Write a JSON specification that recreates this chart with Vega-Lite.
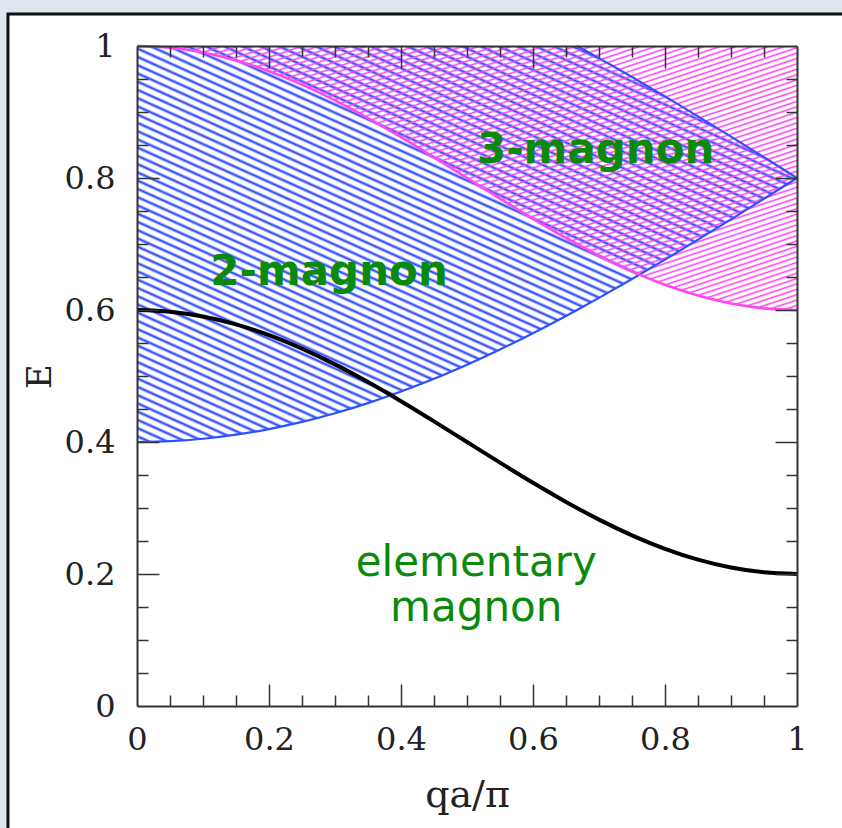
{
  "$schema": "https://vega.github.io/schema/vega-lite/v6.json",
  "width": 660,
  "height": 660,
  "autosize": {"type": "none"},
  "padding": {"left": 137, "top": 46, "right": 45, "bottom": 122},
  "background": "#dfe6ef",
  "config": {"view": {"stroke": null}},
  "datasets": {
    "bands": [
      {"q": 0, "mag1": 0.6, "lo2": 0.4, "hi2": 1, "lo3": 1.0},
      {"q": 0.05, "mag1": 0.5975, "lo2": 0.4012, "hi2": 1, "lo3": 0.9975},
      {"q": 0.1, "mag1": 0.5902, "lo2": 0.4049, "hi2": 1, "lo3": 0.9902},
      {"q": 0.15, "mag1": 0.5782, "lo2": 0.4111, "hi2": 1, "lo3": 0.9782},
      {"q": 0.2, "mag1": 0.5618, "lo2": 0.4196, "hi2": 1, "lo3": 0.9618},
      {"q": 0.25, "mag1": 0.5414, "lo2": 0.4304, "hi2": 1, "lo3": 0.9414},
      {"q": 0.3, "mag1": 0.5176, "lo2": 0.4436, "hi2": 1, "lo3": 0.9176},
      {"q": 0.35, "mag1": 0.4908, "lo2": 0.4589, "hi2": 1, "lo3": 0.8908},
      {"q": 0.4, "mag1": 0.4618, "lo2": 0.4764, "hi2": 1, "lo3": 0.8618},
      {"q": 0.45, "mag1": 0.4313, "lo2": 0.4958, "hi2": 1, "lo3": 0.8313},
      {"q": 0.5, "mag1": 0.4, "lo2": 0.5172, "hi2": 1, "lo3": 0.8},
      {"q": 0.55, "mag1": 0.3687, "lo2": 0.5402, "hi2": 1, "lo3": 0.7687},
      {"q": 0.6, "mag1": 0.3382, "lo2": 0.5649, "hi2": 1, "lo3": 0.7382},
      {"q": 0.65, "mag1": 0.3092, "lo2": 0.591, "hi2": 1, "lo3": 0.7092},
      {"q": 0.6667, "mag1": 0.3, "lo2": 0.6, "hi2": 1, "lo3": 0.7},
      {"q": 0.7, "mag1": 0.2824, "lo2": 0.6184, "hi2": 0.9816, "lo3": 0.6824},
      {"q": 0.75, "mag1": 0.2586, "lo2": 0.6469, "hi2": 0.9531, "lo3": 0.6586},
      {"q": 0.8, "mag1": 0.2382, "lo2": 0.6764, "hi2": 0.9236, "lo3": 0.6382},
      {"q": 0.85, "mag1": 0.2218, "lo2": 0.7066, "hi2": 0.8934, "lo3": 0.6218},
      {"q": 0.9, "mag1": 0.2098, "lo2": 0.7374, "hi2": 0.8626, "lo3": 0.6098},
      {"q": 0.95, "mag1": 0.2025, "lo2": 0.7686, "hi2": 0.8314, "lo3": 0.6025},
      {"q": 1, "mag1": 0.2, "lo2": 0.8, "hi2": 0.8, "lo3": 0.6}
    ],
    "boldLabels": [
      {"label": "2-magnon", "q": 0.291, "E": 0.638},
      {"label": "3-magnon", "q": 0.695, "E": 0.823}
    ],
    "plainLabels": [
      {"label": "elementary\nmagnon", "q": 0.514, "E": 0.197}
    ]
  },
  "resolve": {"axis": {"x": "independent", "y": "independent"}},
  "layer": [
    {
      "data": {"values": [{}]},
      "mark": {"type": "rect", "fill": "white", "stroke": "#111", "strokeWidth": 3},
      "encoding": {
        "x": {"datum": -0.1955, "type": "quantitative", "scale": {"domain": [0, 1]}, "axis": null},
        "x2": {"datum": 1.1},
        "y": {"datum": 1.0485, "type": "quantitative", "scale": {"domain": [0, 1]}, "axis": null},
        "y2": {"datum": -0.3}
      }
    },
    {
      "data": {"name": "bands"},
      "mark": {
        "type": "area",
        "interpolate": "monotone",
        "fill": {
          "gradient": "linear", "x1": 1, "y1": 0, "x2": 0, "y2": 1.333,
          "stops": [
            {"offset":0,"color":"#2040ff00"},{"offset":0.003,"color":"#2040ff"},{"offset":0.006,"color":"#2040ff00"},
            {"offset":0.01,"color":"#2040ff00"},{"offset":0.013,"color":"#2040ff"},{"offset":0.016,"color":"#2040ff00"},
            {"offset":0.02,"color":"#2040ff00"},{"offset":0.023,"color":"#2040ff"},{"offset":0.026,"color":"#2040ff00"},
            {"offset":0.03,"color":"#2040ff00"},{"offset":0.033,"color":"#2040ff"},{"offset":0.036,"color":"#2040ff00"},
            {"offset":0.04,"color":"#2040ff00"},{"offset":0.043,"color":"#2040ff"},{"offset":0.046,"color":"#2040ff00"},
            {"offset":0.05,"color":"#2040ff00"},{"offset":0.053,"color":"#2040ff"},{"offset":0.056,"color":"#2040ff00"},
            {"offset":0.06,"color":"#2040ff00"},{"offset":0.063,"color":"#2040ff"},{"offset":0.066,"color":"#2040ff00"},
            {"offset":0.07,"color":"#2040ff00"},{"offset":0.073,"color":"#2040ff"},{"offset":0.076,"color":"#2040ff00"},
            {"offset":0.08,"color":"#2040ff00"},{"offset":0.083,"color":"#2040ff"},{"offset":0.086,"color":"#2040ff00"},
            {"offset":0.09,"color":"#2040ff00"},{"offset":0.093,"color":"#2040ff"},{"offset":0.096,"color":"#2040ff00"},
            {"offset":0.10,"color":"#2040ff00"},{"offset":0.103,"color":"#2040ff"},{"offset":0.106,"color":"#2040ff00"},
            {"offset":0.11,"color":"#2040ff00"},{"offset":0.113,"color":"#2040ff"},{"offset":0.116,"color":"#2040ff00"},
            {"offset":0.12,"color":"#2040ff00"},{"offset":0.123,"color":"#2040ff"},{"offset":0.126,"color":"#2040ff00"},
            {"offset":0.13,"color":"#2040ff00"},{"offset":0.133,"color":"#2040ff"},{"offset":0.136,"color":"#2040ff00"},
            {"offset":0.14,"color":"#2040ff00"},{"offset":0.143,"color":"#2040ff"},{"offset":0.146,"color":"#2040ff00"},
            {"offset":0.15,"color":"#2040ff00"},{"offset":0.153,"color":"#2040ff"},{"offset":0.156,"color":"#2040ff00"},
            {"offset":0.16,"color":"#2040ff00"},{"offset":0.163,"color":"#2040ff"},{"offset":0.166,"color":"#2040ff00"},
            {"offset":0.17,"color":"#2040ff00"},{"offset":0.173,"color":"#2040ff"},{"offset":0.176,"color":"#2040ff00"},
            {"offset":0.18,"color":"#2040ff00"},{"offset":0.183,"color":"#2040ff"},{"offset":0.186,"color":"#2040ff00"},
            {"offset":0.19,"color":"#2040ff00"},{"offset":0.193,"color":"#2040ff"},{"offset":0.196,"color":"#2040ff00"},
            {"offset":0.20,"color":"#2040ff00"},{"offset":0.203,"color":"#2040ff"},{"offset":0.206,"color":"#2040ff00"},
            {"offset":0.21,"color":"#2040ff00"},{"offset":0.213,"color":"#2040ff"},{"offset":0.216,"color":"#2040ff00"},
            {"offset":0.22,"color":"#2040ff00"},{"offset":0.223,"color":"#2040ff"},{"offset":0.226,"color":"#2040ff00"},
            {"offset":0.23,"color":"#2040ff00"},{"offset":0.233,"color":"#2040ff"},{"offset":0.236,"color":"#2040ff00"},
            {"offset":0.24,"color":"#2040ff00"},{"offset":0.243,"color":"#2040ff"},{"offset":0.246,"color":"#2040ff00"},
            {"offset":0.25,"color":"#2040ff00"},{"offset":0.253,"color":"#2040ff"},{"offset":0.256,"color":"#2040ff00"},
            {"offset":0.26,"color":"#2040ff00"},{"offset":0.263,"color":"#2040ff"},{"offset":0.266,"color":"#2040ff00"},
            {"offset":0.27,"color":"#2040ff00"},{"offset":0.273,"color":"#2040ff"},{"offset":0.276,"color":"#2040ff00"},
            {"offset":0.28,"color":"#2040ff00"},{"offset":0.283,"color":"#2040ff"},{"offset":0.286,"color":"#2040ff00"},
            {"offset":0.29,"color":"#2040ff00"},{"offset":0.293,"color":"#2040ff"},{"offset":0.296,"color":"#2040ff00"},
            {"offset":0.30,"color":"#2040ff00"},{"offset":0.303,"color":"#2040ff"},{"offset":0.306,"color":"#2040ff00"},
            {"offset":0.31,"color":"#2040ff00"},{"offset":0.313,"color":"#2040ff"},{"offset":0.316,"color":"#2040ff00"},
            {"offset":0.32,"color":"#2040ff00"},{"offset":0.323,"color":"#2040ff"},{"offset":0.326,"color":"#2040ff00"},
            {"offset":0.33,"color":"#2040ff00"},{"offset":0.333,"color":"#2040ff"},{"offset":0.336,"color":"#2040ff00"},
            {"offset":0.34,"color":"#2040ff00"},{"offset":0.343,"color":"#2040ff"},{"offset":0.346,"color":"#2040ff00"},
            {"offset":0.35,"color":"#2040ff00"},{"offset":0.353,"color":"#2040ff"},{"offset":0.356,"color":"#2040ff00"},
            {"offset":0.36,"color":"#2040ff00"},{"offset":0.363,"color":"#2040ff"},{"offset":0.366,"color":"#2040ff00"},
            {"offset":0.37,"color":"#2040ff00"},{"offset":0.373,"color":"#2040ff"},{"offset":0.376,"color":"#2040ff00"},
            {"offset":0.38,"color":"#2040ff00"},{"offset":0.383,"color":"#2040ff"},{"offset":0.386,"color":"#2040ff00"},
            {"offset":0.39,"color":"#2040ff00"},{"offset":0.393,"color":"#2040ff"},{"offset":0.396,"color":"#2040ff00"},
            {"offset":0.40,"color":"#2040ff00"},{"offset":0.403,"color":"#2040ff"},{"offset":0.406,"color":"#2040ff00"},
            {"offset":0.41,"color":"#2040ff00"},{"offset":0.413,"color":"#2040ff"},{"offset":0.416,"color":"#2040ff00"},
            {"offset":0.42,"color":"#2040ff00"},{"offset":0.423,"color":"#2040ff"},{"offset":0.426,"color":"#2040ff00"},
            {"offset":0.43,"color":"#2040ff00"},{"offset":0.433,"color":"#2040ff"},{"offset":0.436,"color":"#2040ff00"},
            {"offset":0.44,"color":"#2040ff00"},{"offset":0.443,"color":"#2040ff"},{"offset":0.446,"color":"#2040ff00"},
            {"offset":0.45,"color":"#2040ff00"},{"offset":0.453,"color":"#2040ff"},{"offset":0.456,"color":"#2040ff00"},
            {"offset":0.46,"color":"#2040ff00"},{"offset":0.463,"color":"#2040ff"},{"offset":0.466,"color":"#2040ff00"},
            {"offset":0.47,"color":"#2040ff00"},{"offset":0.473,"color":"#2040ff"},{"offset":0.476,"color":"#2040ff00"},
            {"offset":0.48,"color":"#2040ff00"},{"offset":0.483,"color":"#2040ff"},{"offset":0.486,"color":"#2040ff00"},
            {"offset":0.49,"color":"#2040ff00"},{"offset":0.493,"color":"#2040ff"},{"offset":0.496,"color":"#2040ff00"},
            {"offset":0.50,"color":"#2040ff00"},{"offset":0.503,"color":"#2040ff"},{"offset":0.506,"color":"#2040ff00"},
            {"offset":0.51,"color":"#2040ff00"},{"offset":0.513,"color":"#2040ff"},{"offset":0.516,"color":"#2040ff00"},
            {"offset":0.52,"color":"#2040ff00"},{"offset":0.523,"color":"#2040ff"},{"offset":0.526,"color":"#2040ff00"},
            {"offset":0.53,"color":"#2040ff00"},{"offset":0.533,"color":"#2040ff"},{"offset":0.536,"color":"#2040ff00"},
            {"offset":0.54,"color":"#2040ff00"},{"offset":0.543,"color":"#2040ff"},{"offset":0.546,"color":"#2040ff00"},
            {"offset":0.55,"color":"#2040ff00"},{"offset":0.553,"color":"#2040ff"},{"offset":0.556,"color":"#2040ff00"},
            {"offset":0.56,"color":"#2040ff00"},{"offset":0.563,"color":"#2040ff"},{"offset":0.566,"color":"#2040ff00"},
            {"offset":0.57,"color":"#2040ff00"},{"offset":0.573,"color":"#2040ff"},{"offset":0.576,"color":"#2040ff00"},
            {"offset":0.58,"color":"#2040ff00"},{"offset":0.583,"color":"#2040ff"},{"offset":0.586,"color":"#2040ff00"},
            {"offset":0.59,"color":"#2040ff00"},{"offset":0.593,"color":"#2040ff"},{"offset":0.596,"color":"#2040ff00"},
            {"offset":0.60,"color":"#2040ff00"},{"offset":0.603,"color":"#2040ff"},{"offset":0.606,"color":"#2040ff00"},
            {"offset":0.61,"color":"#2040ff00"},{"offset":0.613,"color":"#2040ff"},{"offset":0.616,"color":"#2040ff00"},
            {"offset":0.62,"color":"#2040ff00"},{"offset":0.623,"color":"#2040ff"},{"offset":0.626,"color":"#2040ff00"},
            {"offset":0.63,"color":"#2040ff00"},{"offset":0.633,"color":"#2040ff"},{"offset":0.636,"color":"#2040ff00"},
            {"offset":0.64,"color":"#2040ff00"},{"offset":0.643,"color":"#2040ff"},{"offset":0.646,"color":"#2040ff00"},
            {"offset":0.65,"color":"#2040ff00"},{"offset":0.653,"color":"#2040ff"},{"offset":0.656,"color":"#2040ff00"},
            {"offset":0.66,"color":"#2040ff00"},{"offset":0.663,"color":"#2040ff"},{"offset":0.666,"color":"#2040ff00"},
            {"offset":0.67,"color":"#2040ff00"},{"offset":0.673,"color":"#2040ff"},{"offset":0.676,"color":"#2040ff00"},
            {"offset":0.68,"color":"#2040ff00"},{"offset":0.683,"color":"#2040ff"},{"offset":0.686,"color":"#2040ff00"},
            {"offset":0.69,"color":"#2040ff00"},{"offset":0.693,"color":"#2040ff"},{"offset":0.696,"color":"#2040ff00"},
            {"offset":0.70,"color":"#2040ff00"},{"offset":0.703,"color":"#2040ff"},{"offset":0.706,"color":"#2040ff00"},
            {"offset":0.71,"color":"#2040ff00"},{"offset":0.713,"color":"#2040ff"},{"offset":0.716,"color":"#2040ff00"},
            {"offset":0.72,"color":"#2040ff00"},{"offset":0.723,"color":"#2040ff"},{"offset":0.726,"color":"#2040ff00"},
            {"offset":0.73,"color":"#2040ff00"},{"offset":0.733,"color":"#2040ff"},{"offset":0.736,"color":"#2040ff00"},
            {"offset":0.74,"color":"#2040ff00"},{"offset":0.743,"color":"#2040ff"},{"offset":0.746,"color":"#2040ff00"},
            {"offset":0.75,"color":"#2040ff00"},{"offset":0.753,"color":"#2040ff"},{"offset":0.756,"color":"#2040ff00"},
            {"offset":0.76,"color":"#2040ff00"},{"offset":0.763,"color":"#2040ff"},{"offset":0.766,"color":"#2040ff00"},
            {"offset":0.77,"color":"#2040ff00"},{"offset":0.773,"color":"#2040ff"},{"offset":0.776,"color":"#2040ff00"},
            {"offset":0.78,"color":"#2040ff00"},{"offset":0.783,"color":"#2040ff"},{"offset":0.786,"color":"#2040ff00"},
            {"offset":0.79,"color":"#2040ff00"},{"offset":0.793,"color":"#2040ff"},{"offset":0.796,"color":"#2040ff00"},
            {"offset":0.80,"color":"#2040ff00"},{"offset":0.803,"color":"#2040ff"},{"offset":0.806,"color":"#2040ff00"},
            {"offset":0.81,"color":"#2040ff00"},{"offset":0.813,"color":"#2040ff"},{"offset":0.816,"color":"#2040ff00"},
            {"offset":0.82,"color":"#2040ff00"},{"offset":0.823,"color":"#2040ff"},{"offset":0.826,"color":"#2040ff00"},
            {"offset":0.83,"color":"#2040ff00"},{"offset":0.833,"color":"#2040ff"},{"offset":0.836,"color":"#2040ff00"},
            {"offset":0.84,"color":"#2040ff00"},{"offset":0.843,"color":"#2040ff"},{"offset":0.846,"color":"#2040ff00"},
            {"offset":0.85,"color":"#2040ff00"},{"offset":0.853,"color":"#2040ff"},{"offset":0.856,"color":"#2040ff00"},
            {"offset":0.86,"color":"#2040ff00"},{"offset":0.863,"color":"#2040ff"},{"offset":0.866,"color":"#2040ff00"},
            {"offset":0.87,"color":"#2040ff00"},{"offset":0.873,"color":"#2040ff"},{"offset":0.876,"color":"#2040ff00"},
            {"offset":0.88,"color":"#2040ff00"},{"offset":0.883,"color":"#2040ff"},{"offset":0.886,"color":"#2040ff00"},
            {"offset":0.89,"color":"#2040ff00"},{"offset":0.893,"color":"#2040ff"},{"offset":0.896,"color":"#2040ff00"},
            {"offset":1,"color":"#2040ff00"}
          ]
        }
      },
      "encoding": {
        "x": {"field": "q", "type": "quantitative", "scale": {"domain": [0, 1]},
          "axis": {"zindex": 1, "orient": "bottom", "values": [0, 0.2, 0.4, 0.6, 0.8, 1], "format": ".1~f", "ticks": false, "domain": false, "grid": false,
            "labelFlush": false, "labelOverlap": false, "labelFont": "DejaVu Serif", "labelFontSize": 32, "labelColor": "#222", "labelPadding": 18,
            "title": "qa/π", "titleFont": "DejaVu Serif", "titleFontSize": 38, "titleFontWeight": "normal", "titleColor": "#222", "titlePadding": 21}},
        "y": {"field": "lo2", "type": "quantitative", "scale": {"domain": [0, 1]},
          "axis": {"zindex": 1, "orient": "left", "values": [0, 0.2, 0.4, 0.6, 0.8, 1], "format": ".1~f", "ticks": false, "domain": false, "grid": false,
            "labelFlush": false, "labelOverlap": false, "labelFont": "DejaVu Serif", "labelFontSize": 32, "labelColor": "#222", "labelPadding": 22,
            "title": "E", "titleFont": "DejaVu Serif", "titleFontSize": 34, "titleFontWeight": "normal", "titleColor": "#222", "titlePadding": 7}},
        "y2": {"field": "hi2"}
      }
    },
    {
      "data": {"name": "bands"},
      "mark": {
        "type": "area",
        "interpolate": "monotone",
        "fill": {
          "gradient": "linear", "x1": 0, "y1": 0, "x2": 1, "y2": 1.2,
          "stops": [
            {"offset":0,"color":"#ff40f000"},{"offset":0.003,"color":"#ff40f0"},{"offset":0.006,"color":"#ff40f000"},
            {"offset":0.01,"color":"#ff40f000"},{"offset":0.013,"color":"#ff40f0"},{"offset":0.016,"color":"#ff40f000"},
            {"offset":0.02,"color":"#ff40f000"},{"offset":0.023,"color":"#ff40f0"},{"offset":0.026,"color":"#ff40f000"},
            {"offset":0.03,"color":"#ff40f000"},{"offset":0.033,"color":"#ff40f0"},{"offset":0.036,"color":"#ff40f000"},
            {"offset":0.04,"color":"#ff40f000"},{"offset":0.043,"color":"#ff40f0"},{"offset":0.046,"color":"#ff40f000"},
            {"offset":0.05,"color":"#ff40f000"},{"offset":0.053,"color":"#ff40f0"},{"offset":0.056,"color":"#ff40f000"},
            {"offset":0.06,"color":"#ff40f000"},{"offset":0.063,"color":"#ff40f0"},{"offset":0.066,"color":"#ff40f000"},
            {"offset":0.07,"color":"#ff40f000"},{"offset":0.073,"color":"#ff40f0"},{"offset":0.076,"color":"#ff40f000"},
            {"offset":0.08,"color":"#ff40f000"},{"offset":0.083,"color":"#ff40f0"},{"offset":0.086,"color":"#ff40f000"},
            {"offset":0.09,"color":"#ff40f000"},{"offset":0.093,"color":"#ff40f0"},{"offset":0.096,"color":"#ff40f000"},
            {"offset":0.10,"color":"#ff40f000"},{"offset":0.103,"color":"#ff40f0"},{"offset":0.106,"color":"#ff40f000"},
            {"offset":0.11,"color":"#ff40f000"},{"offset":0.113,"color":"#ff40f0"},{"offset":0.116,"color":"#ff40f000"},
            {"offset":0.12,"color":"#ff40f000"},{"offset":0.123,"color":"#ff40f0"},{"offset":0.126,"color":"#ff40f000"},
            {"offset":0.13,"color":"#ff40f000"},{"offset":0.133,"color":"#ff40f0"},{"offset":0.136,"color":"#ff40f000"},
            {"offset":0.14,"color":"#ff40f000"},{"offset":0.143,"color":"#ff40f0"},{"offset":0.146,"color":"#ff40f000"},
            {"offset":0.15,"color":"#ff40f000"},{"offset":0.153,"color":"#ff40f0"},{"offset":0.156,"color":"#ff40f000"},
            {"offset":0.16,"color":"#ff40f000"},{"offset":0.163,"color":"#ff40f0"},{"offset":0.166,"color":"#ff40f000"},
            {"offset":0.17,"color":"#ff40f000"},{"offset":0.173,"color":"#ff40f0"},{"offset":0.176,"color":"#ff40f000"},
            {"offset":0.18,"color":"#ff40f000"},{"offset":0.183,"color":"#ff40f0"},{"offset":0.186,"color":"#ff40f000"},
            {"offset":0.19,"color":"#ff40f000"},{"offset":0.193,"color":"#ff40f0"},{"offset":0.196,"color":"#ff40f000"},
            {"offset":0.20,"color":"#ff40f000"},{"offset":0.203,"color":"#ff40f0"},{"offset":0.206,"color":"#ff40f000"},
            {"offset":0.21,"color":"#ff40f000"},{"offset":0.213,"color":"#ff40f0"},{"offset":0.216,"color":"#ff40f000"},
            {"offset":0.22,"color":"#ff40f000"},{"offset":0.223,"color":"#ff40f0"},{"offset":0.226,"color":"#ff40f000"},
            {"offset":0.23,"color":"#ff40f000"},{"offset":0.233,"color":"#ff40f0"},{"offset":0.236,"color":"#ff40f000"},
            {"offset":0.24,"color":"#ff40f000"},{"offset":0.243,"color":"#ff40f0"},{"offset":0.246,"color":"#ff40f000"},
            {"offset":0.25,"color":"#ff40f000"},{"offset":0.253,"color":"#ff40f0"},{"offset":0.256,"color":"#ff40f000"},
            {"offset":0.26,"color":"#ff40f000"},{"offset":0.263,"color":"#ff40f0"},{"offset":0.266,"color":"#ff40f000"},
            {"offset":0.27,"color":"#ff40f000"},{"offset":0.273,"color":"#ff40f0"},{"offset":0.276,"color":"#ff40f000"},
            {"offset":0.28,"color":"#ff40f000"},{"offset":0.283,"color":"#ff40f0"},{"offset":0.286,"color":"#ff40f000"},
            {"offset":0.29,"color":"#ff40f000"},{"offset":0.293,"color":"#ff40f0"},{"offset":0.296,"color":"#ff40f000"},
            {"offset":0.30,"color":"#ff40f000"},{"offset":0.303,"color":"#ff40f0"},{"offset":0.306,"color":"#ff40f000"},
            {"offset":0.31,"color":"#ff40f000"},{"offset":0.313,"color":"#ff40f0"},{"offset":0.316,"color":"#ff40f000"},
            {"offset":0.32,"color":"#ff40f000"},{"offset":0.323,"color":"#ff40f0"},{"offset":0.326,"color":"#ff40f000"},
            {"offset":0.33,"color":"#ff40f000"},{"offset":0.333,"color":"#ff40f0"},{"offset":0.336,"color":"#ff40f000"},
            {"offset":0.34,"color":"#ff40f000"},{"offset":0.343,"color":"#ff40f0"},{"offset":0.346,"color":"#ff40f000"},
            {"offset":0.35,"color":"#ff40f000"},{"offset":0.353,"color":"#ff40f0"},{"offset":0.356,"color":"#ff40f000"},
            {"offset":0.36,"color":"#ff40f000"},{"offset":0.363,"color":"#ff40f0"},{"offset":0.366,"color":"#ff40f000"},
            {"offset":0.37,"color":"#ff40f000"},{"offset":0.373,"color":"#ff40f0"},{"offset":0.376,"color":"#ff40f000"},
            {"offset":0.38,"color":"#ff40f000"},{"offset":0.383,"color":"#ff40f0"},{"offset":0.386,"color":"#ff40f000"},
            {"offset":0.39,"color":"#ff40f000"},{"offset":0.393,"color":"#ff40f0"},{"offset":0.396,"color":"#ff40f000"},
            {"offset":0.40,"color":"#ff40f000"},{"offset":0.403,"color":"#ff40f0"},{"offset":0.406,"color":"#ff40f000"},
            {"offset":0.41,"color":"#ff40f000"},{"offset":0.413,"color":"#ff40f0"},{"offset":0.416,"color":"#ff40f000"},
            {"offset":0.42,"color":"#ff40f000"},{"offset":0.423,"color":"#ff40f0"},{"offset":0.426,"color":"#ff40f000"},
            {"offset":0.43,"color":"#ff40f000"},{"offset":0.433,"color":"#ff40f0"},{"offset":0.436,"color":"#ff40f000"},
            {"offset":0.44,"color":"#ff40f000"},{"offset":0.443,"color":"#ff40f0"},{"offset":0.446,"color":"#ff40f000"},
            {"offset":0.45,"color":"#ff40f000"},{"offset":0.453,"color":"#ff40f0"},{"offset":0.456,"color":"#ff40f000"},
            {"offset":0.46,"color":"#ff40f000"},{"offset":0.463,"color":"#ff40f0"},{"offset":0.466,"color":"#ff40f000"},
            {"offset":0.47,"color":"#ff40f000"},{"offset":0.473,"color":"#ff40f0"},{"offset":0.476,"color":"#ff40f000"},
            {"offset":0.48,"color":"#ff40f000"},{"offset":0.483,"color":"#ff40f0"},{"offset":0.486,"color":"#ff40f000"},
            {"offset":0.49,"color":"#ff40f000"},{"offset":0.493,"color":"#ff40f0"},{"offset":0.496,"color":"#ff40f000"},
            {"offset":0.50,"color":"#ff40f000"},{"offset":0.503,"color":"#ff40f0"},{"offset":0.506,"color":"#ff40f000"},
            {"offset":0.51,"color":"#ff40f000"},{"offset":0.513,"color":"#ff40f0"},{"offset":0.516,"color":"#ff40f000"},
            {"offset":0.52,"color":"#ff40f000"},{"offset":0.523,"color":"#ff40f0"},{"offset":0.526,"color":"#ff40f000"},
            {"offset":0.53,"color":"#ff40f000"},{"offset":0.533,"color":"#ff40f0"},{"offset":0.536,"color":"#ff40f000"},
            {"offset":0.54,"color":"#ff40f000"},{"offset":0.543,"color":"#ff40f0"},{"offset":0.546,"color":"#ff40f000"},
            {"offset":0.55,"color":"#ff40f000"},{"offset":0.553,"color":"#ff40f0"},{"offset":0.556,"color":"#ff40f000"},
            {"offset":0.56,"color":"#ff40f000"},{"offset":0.563,"color":"#ff40f0"},{"offset":0.566,"color":"#ff40f000"},
            {"offset":0.57,"color":"#ff40f000"},{"offset":0.573,"color":"#ff40f0"},{"offset":0.576,"color":"#ff40f000"},
            {"offset":0.58,"color":"#ff40f000"},{"offset":0.583,"color":"#ff40f0"},{"offset":0.586,"color":"#ff40f000"},
            {"offset":0.59,"color":"#ff40f000"},{"offset":0.593,"color":"#ff40f0"},{"offset":0.596,"color":"#ff40f000"},
            {"offset":0.60,"color":"#ff40f000"},{"offset":0.603,"color":"#ff40f0"},{"offset":0.606,"color":"#ff40f000"},
            {"offset":0.61,"color":"#ff40f000"},{"offset":0.613,"color":"#ff40f0"},{"offset":0.616,"color":"#ff40f000"},
            {"offset":0.62,"color":"#ff40f000"},{"offset":0.623,"color":"#ff40f0"},{"offset":0.626,"color":"#ff40f000"},
            {"offset":0.63,"color":"#ff40f000"},{"offset":0.633,"color":"#ff40f0"},{"offset":0.636,"color":"#ff40f000"},
            {"offset":0.64,"color":"#ff40f000"},{"offset":0.643,"color":"#ff40f0"},{"offset":0.646,"color":"#ff40f000"},
            {"offset":0.65,"color":"#ff40f000"},{"offset":0.653,"color":"#ff40f0"},{"offset":0.656,"color":"#ff40f000"},
            {"offset":0.66,"color":"#ff40f000"},{"offset":0.663,"color":"#ff40f0"},{"offset":0.666,"color":"#ff40f000"},
            {"offset":0.67,"color":"#ff40f000"},{"offset":0.673,"color":"#ff40f0"},{"offset":0.676,"color":"#ff40f000"},
            {"offset":0.68,"color":"#ff40f000"},{"offset":0.683,"color":"#ff40f0"},{"offset":0.686,"color":"#ff40f000"},
            {"offset":0.69,"color":"#ff40f000"},{"offset":0.693,"color":"#ff40f0"},{"offset":0.696,"color":"#ff40f000"},
            {"offset":0.70,"color":"#ff40f000"},{"offset":0.703,"color":"#ff40f0"},{"offset":0.706,"color":"#ff40f000"},
            {"offset":0.71,"color":"#ff40f000"},{"offset":0.713,"color":"#ff40f0"},{"offset":0.716,"color":"#ff40f000"},
            {"offset":0.72,"color":"#ff40f000"},{"offset":0.723,"color":"#ff40f0"},{"offset":0.726,"color":"#ff40f000"},
            {"offset":0.73,"color":"#ff40f000"},{"offset":0.733,"color":"#ff40f0"},{"offset":0.736,"color":"#ff40f000"},
            {"offset":0.74,"color":"#ff40f000"},{"offset":0.743,"color":"#ff40f0"},{"offset":0.746,"color":"#ff40f000"},
            {"offset":0.75,"color":"#ff40f000"},{"offset":0.753,"color":"#ff40f0"},{"offset":0.756,"color":"#ff40f000"},
            {"offset":0.76,"color":"#ff40f000"},{"offset":0.763,"color":"#ff40f0"},{"offset":0.766,"color":"#ff40f000"},
            {"offset":0.77,"color":"#ff40f000"},{"offset":0.773,"color":"#ff40f0"},{"offset":0.776,"color":"#ff40f000"},
            {"offset":0.78,"color":"#ff40f000"},{"offset":0.783,"color":"#ff40f0"},{"offset":0.786,"color":"#ff40f000"},
            {"offset":0.79,"color":"#ff40f000"},{"offset":0.793,"color":"#ff40f0"},{"offset":0.796,"color":"#ff40f000"},
            {"offset":0.80,"color":"#ff40f000"},{"offset":0.803,"color":"#ff40f0"},{"offset":0.806,"color":"#ff40f000"},
            {"offset":0.81,"color":"#ff40f000"},{"offset":0.813,"color":"#ff40f0"},{"offset":0.816,"color":"#ff40f000"},
            {"offset":0.82,"color":"#ff40f000"},{"offset":0.823,"color":"#ff40f0"},{"offset":0.826,"color":"#ff40f000"},
            {"offset":0.83,"color":"#ff40f000"},{"offset":0.833,"color":"#ff40f0"},{"offset":0.836,"color":"#ff40f000"},
            {"offset":0.84,"color":"#ff40f000"},{"offset":0.843,"color":"#ff40f0"},{"offset":0.846,"color":"#ff40f000"},
            {"offset":0.85,"color":"#ff40f000"},{"offset":0.853,"color":"#ff40f0"},{"offset":0.856,"color":"#ff40f000"},
            {"offset":0.86,"color":"#ff40f000"},{"offset":0.863,"color":"#ff40f0"},{"offset":0.866,"color":"#ff40f000"},
            {"offset":0.87,"color":"#ff40f000"},{"offset":0.873,"color":"#ff40f0"},{"offset":0.876,"color":"#ff40f000"},
            {"offset":0.88,"color":"#ff40f000"},{"offset":0.883,"color":"#ff40f0"},{"offset":0.886,"color":"#ff40f000"},
            {"offset":0.89,"color":"#ff40f000"},{"offset":0.893,"color":"#ff40f0"},{"offset":0.896,"color":"#ff40f000"},
            {"offset":0.90,"color":"#ff40f000"},{"offset":0.903,"color":"#ff40f0"},{"offset":0.906,"color":"#ff40f000"},
            {"offset":1,"color":"#ff40f000"}
          ]
        }
      },
      "encoding": {
        "x": {"field": "q", "type": "quantitative", "scale": {"domain": [0, 1]},
          "axis": {"zindex": 1, "orient": "bottom", "values": [0.2, 0.4, 0.6, 0.8], "labels": false, "tickSize": -22, "tickWidth": 1.5, "tickColor": "#333",
            "domain": true, "domainColor": "#333", "domainWidth": 2, "grid": false, "title": null}},
        "y": {"field": "lo3", "type": "quantitative", "scale": {"domain": [0, 1]},
          "axis": {"zindex": 1, "orient": "left", "values": [0.2, 0.4, 0.6, 0.8], "labels": false, "tickSize": -22, "tickWidth": 1.5, "tickColor": "#333",
            "domain": true, "domainColor": "#333", "domainWidth": 2, "grid": false, "title": null}},
        "y2": {"datum": 1}
      }
    },
    {
      "data": {"name": "bands"},
      "mark": {"type": "line", "interpolate": "monotone", "color": "#2f50ff", "strokeWidth": 2.2},
      "encoding": {
        "x": {"field": "q", "type": "quantitative", "scale": {"domain": [0, 1]},
          "axis": {"zindex": 1, "orient": "bottom", "values": [0.05, 0.1, 0.15, 0.25, 0.3, 0.35, 0.45, 0.5, 0.55, 0.65, 0.7, 0.75, 0.85, 0.9, 0.95],
            "labels": false, "tickSize": -11, "tickWidth": 1.5, "tickColor": "#333", "domain": false, "grid": false, "title": null}},
        "y": {"field": "lo2", "type": "quantitative", "scale": {"domain": [0, 1]},
          "axis": {"zindex": 1, "orient": "left", "values": [0.05, 0.1, 0.15, 0.25, 0.3, 0.35, 0.45, 0.5, 0.55, 0.65, 0.7, 0.75, 0.85, 0.9, 0.95],
            "labels": false, "tickSize": -11, "tickWidth": 1.5, "tickColor": "#333", "domain": false, "grid": false, "title": null}}
      }
    },
    {
      "data": {"name": "bands"},
      "transform": [{"filter": "datum.q >= 0.6667"}],
      "mark": {"type": "line", "interpolate": "monotone", "color": "#2f50ff", "strokeWidth": 2.2},
      "encoding": {
        "x": {"field": "q", "type": "quantitative", "scale": {"domain": [0, 1]},
          "axis": {"zindex": 1, "orient": "top", "values": [0.2, 0.4, 0.6, 0.8], "labels": false, "tickSize": -22, "tickWidth": 1.5, "tickColor": "#333",
            "domain": true, "domainColor": "#333", "domainWidth": 2, "grid": false, "title": null}},
        "y": {"field": "hi2", "type": "quantitative", "scale": {"domain": [0, 1]},
          "axis": {"zindex": 1, "orient": "right", "values": [0.2, 0.4, 0.6, 0.8], "labels": false, "tickSize": -22, "tickWidth": 1.5, "tickColor": "#333",
            "domain": true, "domainColor": "#333", "domainWidth": 2, "grid": false, "title": null}}
      }
    },
    {
      "data": {"name": "bands"},
      "mark": {"type": "line", "interpolate": "monotone", "color": "#ff48f2", "strokeWidth": 2.6},
      "encoding": {
        "x": {"field": "q", "type": "quantitative", "scale": {"domain": [0, 1]},
          "axis": {"zindex": 1, "orient": "top", "values": [0.05, 0.1, 0.15, 0.25, 0.3, 0.35, 0.45, 0.5, 0.55, 0.65, 0.7, 0.75, 0.85, 0.9, 0.95],
            "labels": false, "tickSize": -11, "tickWidth": 1.5, "tickColor": "#333", "domain": false, "grid": false, "title": null}},
        "y": {"field": "lo3", "type": "quantitative", "scale": {"domain": [0, 1]},
          "axis": {"zindex": 1, "orient": "right", "values": [0.05, 0.1, 0.15, 0.25, 0.3, 0.35, 0.45, 0.5, 0.55, 0.65, 0.7, 0.75, 0.85, 0.9, 0.95],
            "labels": false, "tickSize": -11, "tickWidth": 1.5, "tickColor": "#333", "domain": false, "grid": false, "title": null}}
      }
    },
    {
      "data": {"name": "bands"},
      "mark": {"type": "line", "interpolate": "monotone", "color": "#000", "strokeWidth": 4},
      "encoding": {
        "x": {"field": "q", "type": "quantitative", "scale": {"domain": [0, 1]}, "axis": null},
        "y": {"field": "mag1", "type": "quantitative", "scale": {"domain": [0, 1]}, "axis": null}
      }
    },
    {
      "data": {"name": "boldLabels"},
      "mark": {"type": "text", "font": "DejaVu Sans", "fontWeight": "bold", "fontSize": 42, "fill": "#0a8a0a", "align": "center", "baseline": "alphabetic"},
      "encoding": {
        "x": {"field": "q", "type": "quantitative", "scale": {"domain": [0, 1]}, "axis": null},
        "y": {"field": "E", "type": "quantitative", "scale": {"domain": [0, 1]}, "axis": null},
        "text": {"field": "label"}
      }
    },
    {
      "data": {"name": "plainLabels"},
      "mark": {"type": "text", "font": "DejaVu Sans", "fontSize": 42, "lineBreak": "\n", "lineHeight": 45, "fill": "#0a8a0a", "align": "center", "baseline": "alphabetic"},
      "encoding": {
        "x": {"field": "q", "type": "quantitative", "scale": {"domain": [0, 1]}, "axis": null},
        "y": {"field": "E", "type": "quantitative", "scale": {"domain": [0, 1]}, "axis": null},
        "text": {"field": "label"}
      }
    }
  ]
}
